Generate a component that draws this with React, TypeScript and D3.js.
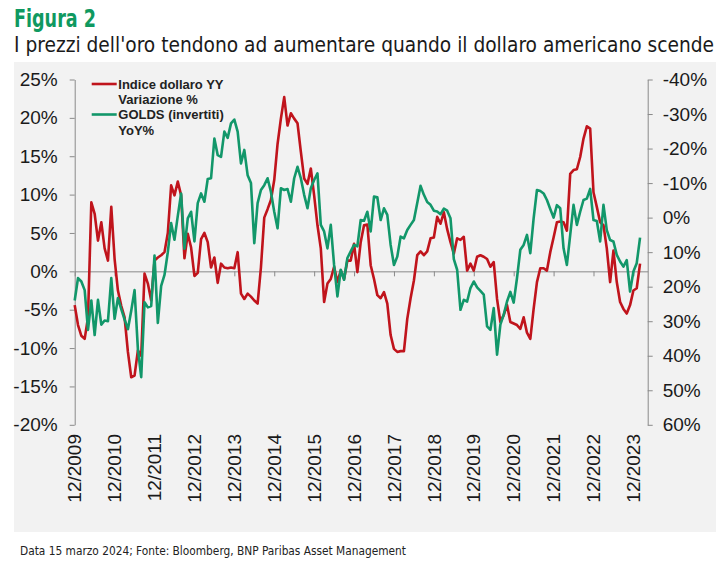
import { useRef, useEffect } from 'react'
import * as d3 from 'd3'

// monthly series, 12/2009 .. 02/2024 (index 0 = 12/2009)
const yearLabels = [
  '12/2009', '12/2010', '12/2011', '12/2012', '12/2013', '12/2014', '12/2015', '12/2016',
  '12/2017', '12/2018', '12/2019', '12/2020', '12/2021', '12/2022', '12/2023',
]

// Indice dollaro YY variazione % (left axis)
const dollarYoY = [
  -4.4, -7.0, -8.4, -8.8, -6.0, 9.0, 7.5, 4.0, 6.4, 3.0,
  1.4, 8.4, 1.6, -2.5, -4.5, -6.0, -10.5, -13.8, -13.6, -10.3,
  -11.0, -0.3, -1.6, -3.8, 1.4, 1.8, 2.1, 2.5, 5.0, 11.2,
  9.9, 11.7, 9.9, 1.7, 4.9, 3.1, -0.6, -0.2, 4.2, 5.0,
  3.8, 0.5, 1.8, -1.5, 1.0, 0.5, 0.4, 0.5, 0.4, 2.5,
  -2.9, -3.6, -2.9, -3.3, -3.8, -4.2, 0.5, 7.0, 8.1, 9.3,
  11.9, 16.6, 19.9, 22.7, 19.0, 20.6, 19.9, 19.3, 15.6, 12.1,
  11.4, 13.4, 9.9, 6.0, 3.0, -4.0, -1.6, -1.0, 0.6, -1.4,
  0.1, -1.0, 1.4, 1.4, 3.6, -0.1, 3.8, 6.0, 6.1, 0.8,
  -1.0, -3.1, -3.5, -2.7, -4.2, -8.3, -10.1, -10.5, -10.4, -10.4,
  -6.2, -3.5, -1.2, 2.1, 2.6, 2.1, 2.6, 4.3, 4.4, 7.1,
  6.2, 7.7, 5.5, 3.8, 2.3, 4.3, 4.1, 4.5, 0.1, 1.0,
  0.1, 1.9, 2.1, 1.9, 1.6, 0.6, 1.2, -3.6, -6.6, -5.7,
  -4.4, -6.6, -6.8, -7.0, -7.5, -6.0, -8.0, -8.8, -4.9, -1.4,
  0.4, 0.4, 0.1, 2.5, 4.4, 6.4, 6.5, 6.4, 5.3, 12.7,
  13.2, 13.3, 14.9, 17.3, 18.9, 18.6, 10.3, 8.4, 6.4, 6.0,
  3.0, -1.4, 2.7, -1.4, -4.0, -4.9, -5.5, -4.4, -2.5, -2.2,
  1.0,
]

// GOLDS (invertiti) YoY% (right axis, inverted)
const goldInverted = [
  24.0, 17.5, 18.5, 21.0, 32.5, 24.0, 34.0, 23.8, 31.0, 29.8,
  30.0, 17.5, 29.3, 23.3, 26.5, 29.5, 32.3, 27.0, 21.0, 38.0,
  46.2, 24.5, 26.0, 25.6, 11.0, 30.5, 19.8, 16.6, 10.0, 1.6,
  6.4, -0.5, -7.0, 9.0, 0.2, -1.7, 6.9, -4.2, -7.0, -4.6,
  -11.2, -11.4, -22.9, -18.1, -17.6, -24.9, -23.1, -27.3, -28.4, -24.9,
  -15.7, -19.6, -12.3, -10.0, 7.4, -4.2, -8.0, -9.4, -11.4, -7.5,
  -1.7, 3.1, -8.5, -8.0, -8.3, -4.6, -11.4, -14.7, -11.4, -6.6,
  -2.7, -8.5, -10.9, -12.8, 2.1, 4.0, 8.9, 2.1, 13.7, 22.8,
  15.1, 18.0, 11.7, 9.8, 7.9, 8.3, 0.7, 0.9, -1.7, 4.0,
  -6.1, -5.9, 0.7, -2.7, -0.8, 7.9, 13.7, 11.3, 5.5, 6.0,
  3.6, 2.1, 0.7, -4.2, -9.2, -6.6, -4.5, -3.7, -2.0, -1.8,
  -1.0, -2.6, -2.0, 0.2, 12.0, 15.1, 26.7, 23.8, 24.3, 20.4,
  18.5, 20.2, 21.2, 22.3, 31.5, 32.5, 26.2, 39.7, 31.0, 28.1,
  24.3, 21.5, 24.6, 17.5, 9.3, 7.9, 5.0, 10.3, 0.2, -8.0,
  -7.7, -7.0, -5.1, -2.5, 0.0, -3.6, -2.7, 8.9, 13.7, 5.0,
  -3.7, 2.1, -1.7, -5.1, -5.5, -8.3, 0.7, 1.0, 6.9, -3.7,
  3.6, 6.5, 6.9, 10.8, 12.7, 14.2, 12.3, 21.4, 15.6, 13.2,
  5.8,
]

const leftTicks = [-20, -15, -10, -5, 0, 5, 10, 15, 20, 25]
const rightTicks = [-40, -30, -20, -10, 0, 10, 20, 30, 40, 50, 60]

const legendItems = [
  { lines: ['Indice dollaro YY', 'Variazione %'], color: '#c0141c' },
  { lines: ['GOLDS (invertiti)', 'YoY%'], color: '#12976a' },
]

const W = 725
const H = 571
const FONT = "'Liberation Sans', Arial, sans-serif"
const NARROW = "'Liberation Sans Narrow', 'DejaVu Sans Condensed', 'Liberation Sans', sans-serif"

export default function App() {
  const svgRef = useRef<SVGSVGElement>(null)

  useEffect(() => {
    if (!svgRef.current) return
    const svg = d3.select(svgRef.current)
    svg.selectAll('*').remove()

    const left = 74.7
    const right = 647.7
    const top = 79.5
    const bottom = 424.8

    // panel
    svg.append('rect')
      .attr('x', 14).attr('y', 62)
      .attr('width', 702).attr('height', 470)
      .attr('fill', '#f2f2f2')

    // title
    svg.append('text')
      .attr('x', 14).attr('y', 27)
      .attr('font-family', NARROW)
      .attr('font-weight', 'bold')
      .attr('font-size', '24px')
      .attr('fill', '#0f9960')
      .attr('textLength', 82)
      .attr('lengthAdjust', 'spacingAndGlyphs')
      .text('Figura 2')

    svg.append('text')
      .attr('x', 14).attr('y', 52)
      .attr('font-family', NARROW)
      .attr('font-size', '21px')
      .attr('fill', '#1a1a1a')
      .attr('textLength', 700)
      .attr('lengthAdjust', 'spacingAndGlyphs')
      .text("I prezzi dell'oro tendono ad aumentare quando il dollaro americano scende")

    const x = d3.scaleLinear().domain([0, 172.3]).range([left, right])
    const yL = d3.scaleLinear().domain([-20, 25]).range([bottom, top])
    const yR = d3.scaleLinear().domain([-40, 60]).range([top, bottom])

    const styleAxis = (g: d3.Selection<SVGGElement, unknown, null, undefined>) => {
      g.select('.domain').attr('stroke', '#8a8a8a')
      g.selectAll('.tick line').attr('stroke', '#8a8a8a')
      g.selectAll('text')
        .attr('fill', '#1a1a1a')
        .attr('font-size', '19px')
        .attr('font-family', FONT)
    }

    // left axis
    svg.append('g')
      .attr('transform', `translate(${left},0)`)
      .call(d3.axisLeft(yL).tickValues(leftTicks).tickSize(5).tickSizeOuter(0).tickPadding(12)
        .tickFormat(d => `${d}%`))
      .call(styleAxis)

    // right axis
    svg.append('g')
      .attr('transform', `translate(${right},0)`)
      .call(d3.axisRight(yR).tickValues(rightTicks).tickSize(5).tickSizeOuter(0).tickPadding(10)
        .tickFormat(d => `${d}%`))
      .call(styleAxis)

    // zero line with year ticks
    svg.append('g')
      .attr('transform', `translate(0,${yL(0)})`)
      .call(d3.axisBottom(x).tickValues(yearLabels.map((_, i) => i * 12)).tickSize(5).tickSizeOuter(0)
        .tickFormat(() => ''))
      .call(styleAxis)

    // rotated year labels
    svg.append('g')
      .selectAll('text')
      .data(yearLabels)
      .join('text')
      .attr('transform', (_, i) => `translate(${x(i * 12)},434) rotate(-90)`)
      .attr('text-anchor', 'end')
      .attr('dy', '0.35em')
      .attr('fill', '#1a1a1a')
      .attr('font-size', '19px')
      .attr('font-family', FONT)
      .text(d => d)

    // lines
    const dollarLine = d3.line<number>()
      .x((_, i) => x(i))
      .y(d => yL(d))
    const goldLine = d3.line<number>()
      .x((_, i) => x(i))
      .y(d => yR(d))

    svg.append('path')
      .datum(dollarYoY)
      .attr('d', dollarLine)
      .attr('fill', 'none')
      .attr('stroke', legendItems[0].color)
      .attr('stroke-width', 2.6)
      .attr('stroke-linejoin', 'round')

    svg.append('path')
      .datum(goldInverted)
      .attr('d', goldLine)
      .attr('fill', 'none')
      .attr('stroke', legendItems[1].color)
      .attr('stroke-width', 2.6)
      .attr('stroke-linejoin', 'round')

    // legend
    const lg = svg.append('g')
    legendItems.forEach((item, k) => {
      const y0 = 84 + k * 30.5
      lg.append('line')
        .attr('x1', 91.7).attr('x2', 116.7)
        .attr('y1', y0).attr('y2', y0)
        .attr('stroke', item.color)
        .attr('stroke-width', 2.6)
      item.lines.forEach((t, j) => {
        lg.append('text')
          .attr('x', 118.3)
          .attr('y', y0 + 4.5 + j * 15.8)
          .attr('fill', '#222')
          .attr('font-size', '13px')
          .attr('font-weight', 'bold')
          .attr('font-family', FONT)
          .text(t)
      })
    })

    // footer
    svg.append('text')
      .attr('x', 20).attr('y', 555)
      .attr('font-family', NARROW)
      .attr('font-size', '12.5px')
      .attr('fill', '#222')
      .attr('textLength', 386)
      .attr('lengthAdjust', 'spacingAndGlyphs')
      .text('Data 15 marzo 2024; Fonte: Bloomberg, BNP Paribas Asset Management')
  }, [])

  return (
    <svg
      ref={svgRef}
      width={W}
      height={H}
      style={{ position: 'absolute', left: 0, top: 0, display: 'block', background: '#fff' }}
    />
  )
}
